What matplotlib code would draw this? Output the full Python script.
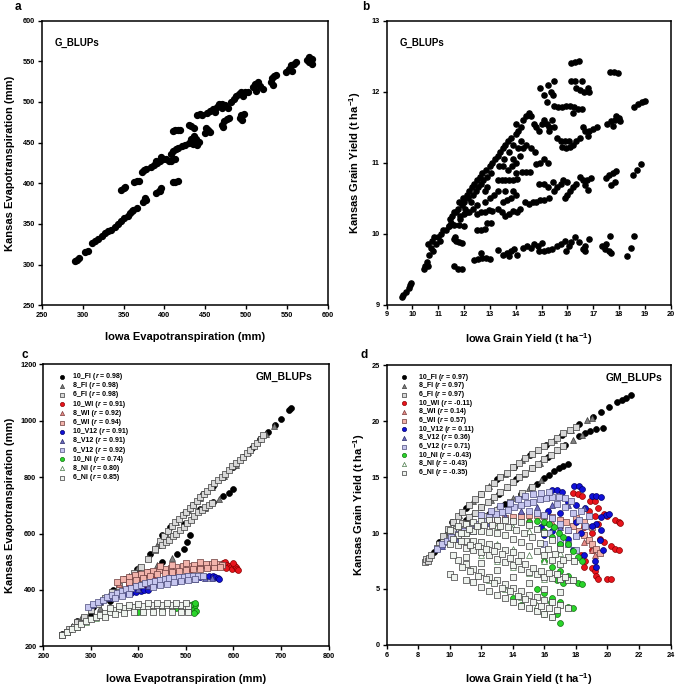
import numpy as np
import matplotlib
matplotlib.use("Agg")
import matplotlib.pyplot as plt

plt.rcParams['font.family'] = ['Liberation Sans', 'DejaVu Sans']
plt.rcParams['font.weight'] = 'bold'
plt.rcParams['mathtext.fontset'] = 'custom'
plt.rcParams['mathtext.rm'] = 'Liberation Sans:bold'
plt.rcParams['mathtext.it'] = 'Liberation Sans:italic:bold'
plt.rcParams['mathtext.bf'] = 'Liberation Sans:bold'

# ---------------- panel a : G_BLUPs evapotranspiration ----------------
a_pts = [(290, 304), (293, 306), (296, 308), (303, 315), (306, 317),
         (311, 326), (315, 329), (319, 332), (323, 335), (327, 339), (331, 341),
         (335, 343), (339, 346), (343, 350), (347, 354), (351, 357), (355, 360),
         (358, 364), (362, 367), (366, 369), (360, 366),
         (374, 377), (378, 380), (376, 382),
         (390, 388), (393, 391), (396, 394), (394, 390),
         (410, 401), (413, 402), (416, 403),
         (347, 392), (350, 394), (352, 395),
         (363, 402), (366, 403), (369, 403),
         (372, 414), (375, 416), (378, 417),
         (383, 420), (387, 422), (391, 425), (394, 428), (398, 430), (402, 430),
         (405, 428), (408, 427), (390, 427), (396, 432),
         (408, 436), (411, 440), (414, 442), (417, 444), (421, 446), (425, 447), (413, 430),
         (410, 464), (413, 465), (416, 465), (419, 465),
         (430, 472), (433, 470), (436, 468),
         (430, 450), (433, 455), (436, 458), (439, 455), (442, 451), (435, 448), (440, 447),
         (440, 484), (443, 485), (446, 484),
         (450, 462), (453, 466), (456, 463), (451, 468),
         (452, 487), (456, 489), (460, 491), (464, 494), (467, 497), (470, 498),
         (474, 496), (478, 493), (462, 488), (470, 492),
         (470, 472), (473, 476), (476, 479), (479, 480), (472, 469),
         (482, 500), (485, 504), (488, 507), (491, 510), (494, 512), (498, 512),
         (502, 512), (496, 507),
         (492, 480), (494, 484), (497, 485), (495, 478),
         (508, 518), (511, 522), (514, 524), (517, 520), (520, 516), (512, 514),
         (530, 525), (532, 529), (534, 532), (536, 533), (533, 521),
         (549, 537), (552, 541), (555, 545), (558, 547), (561, 549), (556, 538),
         (574, 552), (577, 555), (580, 553), (580, 547), (577, 549)]

# ---------------- panel b : G_BLUPs grain yield ----------------
b_pts = [(9.6, 9.1), (9.65, 9.13), (9.75, 9.18), (9.85, 9.23), (9.9, 9.27), (9.95, 9.3),
         # lowest branch
         (11.6, 9.55), (11.75, 9.5), (11.9, 9.5),
         (11.6, 9.92), (11.7, 9.9), (11.8, 9.88), (11.9, 9.87), (11.65, 9.95),
         (12.4, 9.63), (12.55, 9.64), (12.7, 9.65), (12.85, 9.66), (13.0, 9.64), (12.65, 9.72),
         (13.3, 9.77), (13.5, 9.7), (13.65, 9.72), (13.8, 9.75), (13.95, 9.78), (14.05, 9.7),
         (13.75, 9.68), (14.3, 9.8), (14.45, 9.82), (14.6, 9.8), (14.7, 9.85), (14.85, 9.83),
         (15.0, 9.87), (14.9, 9.75), (15.1, 9.76), (15.25, 9.77), (15.4, 9.78), (15.6, 9.82),
         (15.75, 9.85), (15.9, 9.9), (15.95, 9.75), (16.05, 9.82), (16.15, 9.88), (16.3, 9.95),
         (16.45, 9.88), (16.6, 9.78), (16.7, 9.82), (16.85, 9.93), (16.7, 9.75), (17.35, 9.82),
         (17.45, 9.78), (17.5, 9.85), (17.6, 9.75), (17.7, 9.72), (17.65, 9.97), (18.3, 9.68),
         (18.45, 9.8), (18.6, 9.96),
         # main diagonal
         (10.45, 9.5), (10.5, 9.55), (10.55, 9.6), (10.6, 9.55), (10.65, 9.7), (10.7, 9.8),
         (10.6, 9.85), (10.75, 9.9), (10.8, 9.75), (10.9, 9.85), (11.0, 9.95), (11.05, 9.9),
         (10.85, 9.95), (11.1, 10.0), (11.2, 10.05), (11.3, 10.05), (11.4, 10.1), (11.45, 10.2),
         (11.5, 10.15), (11.55, 10.25), (11.6, 10.3), (11.7, 10.3), (11.75, 10.35), (11.8, 10.45),
         (11.85, 10.2), (11.9, 10.4), (11.95, 10.5), (12.0, 10.45), (12.05, 10.35), (12.1, 10.55),
         (12.15, 10.5), (12.2, 10.6), (12.25, 10.45), (12.3, 10.65), (12.35, 10.55), (12.4, 10.7),
         (12.45, 10.6), (12.5, 10.75), (12.55, 10.65), (12.6, 10.8), (12.65, 10.7), (12.7, 10.85),
         (12.75, 10.75), (12.8, 10.6), (12.85, 10.9), (12.9, 10.8), (13.0, 10.95), (13.05, 10.85),
         (13.1, 11.0), (13.2, 11.05), (13.3, 11.1), (13.35, 10.95), (13.4, 11.15), (13.5, 11.2),
         (13.55, 11.05), (13.6, 11.25), (13.7, 11.3), (13.75, 11.15), (13.8, 11.35), (13.9, 11.25),
         (14.0, 11.4), (14.0, 11.55), (14.1, 11.45), (14.2, 11.5), (14.3, 11.6), (14.4, 11.65),
         (14.5, 11.7), (14.6, 11.65), (14.7, 11.55), (14.8, 11.5), (14.9, 11.45), (15.0, 11.55),
         (15.1, 11.6), (15.2, 11.55), (15.3, 11.5), (15.4, 11.6), (15.5, 11.5), (15.3, 11.45),
         # upper branches
         (14.95, 12.05), (15.1, 11.95), (15.25, 12.1), (15.35, 12.0), (15.5, 12.15), (15.45, 11.95),
         (15.2, 11.85), (15.5, 11.8), (15.65, 11.78), (15.8, 11.78), (15.95, 11.8), (16.1, 11.8),
         (16.25, 11.78), (16.4, 11.75), (16.55, 11.75), (16.2, 11.7),
         (16.15, 12.4), (16.3, 12.42), (16.45, 12.43), (16.15, 12.15), (16.3, 12.15), (16.55, 12.15),
         (16.35, 12.05), (16.5, 12.02), (16.65, 12.0), (16.8, 12.05), (16.85, 12.0),
         (17.65, 12.27), (17.8, 12.27), (17.95, 12.26),
         (18.6, 11.78), (18.75, 11.82), (18.9, 11.85), (19.0, 11.87),
         (17.55, 11.55), (17.7, 11.58), (17.85, 11.6), (18.0, 11.63), (17.75, 11.52), (17.9, 11.65),
         (18.05, 11.58),
         (15.6, 11.35), (15.75, 11.3), (15.9, 11.3), (16.05, 11.3), (16.2, 11.25), (16.35, 11.3),
         (16.5, 11.35), (16.6, 11.5), (16.7, 11.45), (16.85, 11.45), (17.0, 11.47), (17.15, 11.5),
         (16.8, 11.38), (15.8, 11.22), (15.95, 11.2), (16.1, 11.22),
         # middle branch
         (13.3, 10.75), (13.45, 10.75), (13.6, 10.75), (13.75, 10.76), (13.9, 10.75), (14.05, 10.77),
         (14.25, 10.87), (14.4, 10.87), (14.55, 10.87), (14.8, 10.98), (14.95, 11.0), (15.1, 11.05),
         (15.25, 11.0), (15.5, 10.6), (15.6, 10.65), (15.75, 10.7), (15.9, 10.5), (16.0, 10.55),
         (16.1, 10.6), (16.2, 10.65), (16.35, 10.7), (16.5, 10.8), (16.6, 10.75), (16.75, 10.75),
         (16.9, 10.78), (16.7, 10.68), (16.8, 10.62), (15.85, 10.75), (16.0, 10.73), (17.5, 10.78),
         (17.6, 10.82), (17.75, 10.85), (17.9, 10.88), (17.7, 10.68), (17.85, 10.72), (18.55, 10.83),
         (18.7, 10.9), (18.85, 10.98), (15.45, 10.72), (15.25, 10.65), (15.1, 10.7), (14.9, 10.7),
         # lower-middle branch
         (12.5, 10.28), (12.65, 10.3), (12.8, 10.3), (12.95, 10.33), (13.1, 10.32), (13.3, 10.35),
         (13.45, 10.3), (13.6, 10.25), (13.75, 10.28), (13.9, 10.32), (14.05, 10.3), (14.15, 10.35),
         (14.5, 10.42), (14.65, 10.45), (14.8, 10.45), (14.95, 10.48), (15.1, 10.48), (15.3, 10.5),
         (14.35, 10.45), (11.85, 10.25), (12.0, 10.27), (12.1, 10.3),
         (12.0, 10.1), (11.8, 10.12), (11.6, 10.12), (11.4, 10.1),
         (12.5, 10.05), (12.65, 10.05), (12.8, 10.06), (12.9, 10.15), (13.05, 10.15),
         (13.5, 10.45), (13.65, 10.47), (13.8, 10.5), (14.0, 10.55),
         (13.5, 10.95), (13.7, 10.9), (13.85, 10.95), (14.0, 11.0), (14.15, 11.1), (14.3, 11.2),
         (14.4, 11.25), (14.6, 11.2), (14.75, 11.15), (14.0, 10.85), (13.3, 10.6), (13.6, 10.6),
         (13.9, 10.6), (12.8, 10.45), (13.0, 10.5), (12.9, 10.65), (13.15, 10.55), (14.1, 11.2),
         (14.2, 11.3), (13.9, 11.05), (12.2, 10.3), (12.35, 10.35), (12.5, 10.4)]

# ---------------- panel c : GM_BLUPs evapotranspiration ----------------
c_names = ['10_FI', '8_FI', '6_FI', '10_WI', '8_WI', '6_WI',
           '10_V12', '8_V12', '6_V12', '10_NI', '8_NI', '6_NI']
c_r = ['0.98', '0.98', '0.98', '0.91', '0.92', '0.94',
       '0.91', '0.91', '0.92', '0.74', '0.80', '0.85']

c_fi10 = [(449, 594), (467, 623), (495, 670), (515, 700), (537, 741), (558, 770), (579, 800),
          (600, 835), (621, 871), (640, 905), (656, 937), (672, 960), (688, 984), (700, 1005),
          (716, 1037), (722, 1045),
          (240, 245), (270, 290), (305, 340), (347, 400), (398, 475), (425, 529), (460, 576),
          (495, 635), (530, 688), (558, 712), (579, 735), (590, 745), (600, 759),
          (300, 310), (340, 360), (380, 410), (420, 465), (450, 500), (481, 529), (495, 546),
          (503, 570), (509, 595)]
c_fi8 = [(260, 272), (300, 330), (340, 390), (380, 450), (420, 515), (442, 560), (460, 590),
         (480, 640), (505, 683), (530, 725), (555, 765), (580, 805), (605, 845), (630, 888),
         (650, 925), (668, 952), (685, 980),
         (280, 300), (320, 358), (360, 418), (400, 480), (440, 560), (475, 600), (510, 650),
         (540, 690), (570, 722),
         (320, 335), (360, 385), (400, 438), (440, 488), (470, 515)]
c_fi6 = [(240, 240), (255, 262), (270, 285), (285, 305), (300, 328), (315, 350), (330, 372),
         (345, 392), (360, 415), (375, 438), (390, 460), (405, 483), (420, 510), (435, 540),
         (445, 575), (453, 590), (462, 610), (470, 628), (478, 640), (485, 652), (493, 665),
         (500, 678), (508, 690), (515, 702), (523, 715), (530, 728), (538, 740), (545, 752),
         (553, 765), (560, 778), (568, 790), (575, 800), (583, 812), (590, 825), (598, 838),
         (605, 850), (613, 861), (620, 872), (628, 885), (635, 898), (643, 910), (650, 922),
         (657, 935), (663, 948),
         (435, 545), (450, 560), (458, 570), (465, 578), (473, 590), (480, 600), (488, 612),
         (495, 625), (503, 637), (510, 648), (518, 662), (525, 675), (533, 685), (540, 695),
         (548, 702), (555, 708),
         (250, 252), (265, 268), (280, 282)]
c_wi10 = [(414, 405), (418, 408), (422, 410), (380, 420), (430, 440), (470, 460), (510, 475),
          (550, 485), (578, 495), (582, 500), (586, 490), (590, 485), (594, 480), (598, 475),
          (602, 490), (605, 482), (608, 476), (610, 470), (600, 495), (585, 478)]
c_wi8 = [(360, 420), (380, 432), (400, 445), (420, 455), (440, 462), (460, 470), (480, 476),
         (500, 480), (520, 485), (540, 488), (560, 490), (575, 492)]
c_wi6 = [(355, 427), (368, 437), (380, 446), (393, 453), (405, 458), (418, 463), (430, 468),
         (443, 472), (455, 475), (468, 479), (480, 482), (493, 484), (505, 486), (518, 488),
         (530, 490), (543, 491), (555, 492), (568, 492), (575, 488),
         (380, 428), (395, 436), (410, 443), (425, 450), (440, 456), (455, 461), (470, 465),
         (485, 468), (500, 471), (515, 473), (530, 476), (545, 478), (560, 480), (572, 481),
         (445, 485), (470, 490), (500, 497), (530, 500), (560, 498)]
c_v10 = [(375, 388), (385, 390), (395, 393), (405, 395), (412, 398), (420, 400), (530, 445),
         (540, 447), (548, 449), (556, 450), (562, 447), (568, 443), (570, 440)]
c_v8 = [(300, 345), (320, 360), (340, 372), (360, 385), (380, 395), (400, 405), (420, 413),
        (440, 420), (460, 428), (480, 433), (500, 438), (520, 440), (540, 442), (555, 444)]
c_v6 = [(295, 340), (305, 350), (315, 358), (325, 366), (335, 374), (345, 381), (355, 388),
        (365, 395), (375, 402), (385, 408), (395, 414), (405, 419), (415, 424), (425, 428),
        (435, 432), (445, 435), (455, 438), (465, 441), (475, 443), (485, 445), (495, 447),
        (505, 448), (515, 449), (525, 450), (535, 450),
        (350, 370), (365, 378), (380, 385), (430, 410), (445, 416), (460, 422), (475, 427),
        (490, 431), (505, 435), (520, 438)]
c_ni10 = [(400, 320), (450, 330), (480, 335), (510, 325), (512, 340), (515, 350), (518, 332),
          (520, 345), (522, 325), (516, 318), (508, 348), (520, 355)]
c_ni8 = [(250, 250), (270, 268), (290, 285), (310, 300), (330, 312), (350, 320), (370, 325),
         (390, 328), (410, 330), (430, 333), (450, 335), (470, 336), (490, 336), (505, 335)]
c_ni6 = [(240, 240), (250, 250), (260, 260), (270, 270), (280, 280), (290, 290), (300, 298),
         (310, 305), (320, 312), (330, 318), (340, 323), (350, 328), (360, 332), (370, 335),
         (380, 338), (390, 340), (400, 342), (410, 343), (420, 344), (430, 345), (440, 346),
         (450, 346), (460, 346), (470, 346), (480, 345), (490, 345), (500, 344), (505, 343),
         (340, 335), (360, 342), (380, 347), (400, 350), (420, 352), (440, 353), (460, 354),
         (480, 354), (500, 353),
         (330, 305), (350, 313), (370, 318), (390, 322), (410, 322), (430, 323), (450, 322),
         (470, 322), (490, 322), (505, 321)]

# ---------------- panel d : GM_BLUPs grain yield ----------------
d_r = ['0.97', '0.97', '0.97', '-0.11', '0.14', '0.57',
       '0.11', '0.36', '0.71', '-0.43', '-0.43', '-0.35']

d_fi10 = [(9.3, 9.2), (10.16, 11.0), (11.0, 12.2), (11.96, 13.5), (13.0, 14.8), (14.07, 15.9),
          (15.1, 17.0), (16.1, 17.9), (17.1, 18.8), (18.2, 19.7), (19.1, 20.4), (19.56, 20.8),
          (20.1, 21.3), (20.6, 21.7), (20.9, 21.9), (21.2, 22.1), (21.5, 22.3),
          (9.0, 8.3), (10.0, 9.9), (11.0, 11.2), (12.0, 12.3), (13.1, 13.5), (14.2, 14.8),
          (15.2, 15.8), (16.2, 16.8), (17.3, 17.9), (18.2, 18.7), (18.6, 18.9), (18.9, 19.1),
          (19.3, 19.3), (19.7, 19.4),
          (10.5, 10.0), (11.5, 10.9), (12.5, 11.7), (13.5, 12.6), (14.5, 13.5), (15.5, 14.4),
          (16.0, 14.9), (16.3, 15.2), (16.6, 15.5), (16.9, 15.8), (17.2, 16.0), (17.5, 16.2)]
d_fi8 = [(9.8, 10.2), (10.6, 11.6), (11.5, 12.9), (12.5, 14.2), (13.5, 15.3), (14.6, 16.5),
         (15.55, 17.4), (16.6, 18.3), (17.66, 19.2), (18.7, 20.1), (19.0, 20.3),
         (9.5, 9.0), (10.48, 10.57), (11.5, 11.8), (12.6, 12.95), (13.6, 14.1), (14.7, 15.3),
         (15.7, 16.3), (16.8, 17.4), (17.8, 18.3), (18.4, 18.8),
         (11.0, 10.4), (12.0, 11.3), (13.0, 12.2), (14.0, 13.1), (15.0, 14.0), (15.8, 14.7)]
d_fi6 = [(9.3, 9.0), (9.6, 9.7), (9.9, 10.4), (10.2, 11.0), (10.5, 11.5), (10.8, 11.9),
         (11.2, 12.5), (11.6, 13.0), (12.0, 13.5), (12.4, 14.0), (12.8, 14.5), (13.2, 15.0),
         (13.6, 15.4), (14.0, 15.9), (14.4, 16.3), (14.8, 16.7), (15.2, 17.1), (15.6, 17.4),
         (16.0, 17.8), (16.4, 18.1), (16.8, 18.5), (17.2, 18.9), (17.6, 19.2), (18.0, 19.5),
         (8.4, 7.4), (8.5, 7.7), (8.6, 7.5), (8.7, 7.8), (8.8, 8.0), (9.2, 8.7), (9.6, 9.2),
         (10.0, 9.8), (10.4, 10.4), (10.8, 10.9), (11.2, 11.4), (11.6, 11.8), (12.0, 12.3),
         (12.4, 12.8), (12.8, 13.2), (13.2, 13.7), (13.6, 14.1), (14.0, 14.6), (14.4, 15.0),
         (14.8, 15.4), (15.2, 15.8), (15.6, 16.2), (16.0, 16.6), (16.4, 17.0), (16.8, 17.4),
         (17.2, 17.8),
         (10.2, 10.2), (10.6, 10.3), (11.4, 10.9), (12.2, 11.5), (13.0, 12.1), (13.8, 12.8),
         (14.6, 13.6), (15.2, 14.1)]
d_wi10 = [(17.8, 13.6), (18.1, 13.5), (18.4, 13.3), (18.9, 12.9), (19.2, 12.9), (19.4, 12.2),
          (19.8, 11.7), (20.0, 11.5), (20.5, 11.2), (20.7, 11.0), (20.8, 10.9), (18.8, 12.0),
          (19.2, 11.5), (19.4, 10.8), (18.5, 10.5), (19.0, 10.0), (19.5, 9.5), (19.8, 9.2),
          (20.2, 8.8), (20.5, 8.6), (20.7, 8.5), (18.6, 7.5), (18.5, 7.0), (19.0, 6.9),
          (19.2, 6.6), (19.3, 6.2), (19.4, 5.9), (20.0, 5.9), (20.2, 5.9), (18.3, 8.0), (19.0, 8.5)]
d_wi8 = [(14.0, 11.2), (15.0, 11.3), (16.0, 11.1), (16.5, 11.0), (17.0, 10.7), (17.5, 10.3),
         (18.0, 9.8), (18.5, 9.2), (19.0, 8.5), (19.2, 8.0)]
d_wi6 = [(12.5, 11.0), (13.0, 11.2), (13.5, 11.3), (14.0, 11.4), (14.5, 11.5), (15.0, 11.6),
         (15.5, 11.6), (16.0, 11.5), (16.5, 11.4), (17.0, 11.2), (17.4, 11.0), (17.8, 10.6),
         (18.2, 10.2), (18.5, 9.8), (18.8, 9.4), (19.0, 9.0), (19.3, 8.6), (19.5, 8.2),
         (18.0, 11.3), (18.5, 11.0), (19.0, 10.5)]
d_v10 = [(16.5, 13.8), (16.8, 13.8), (17.1, 13.7), (17.9, 14.2), (18.2, 14.2), (18.4, 13.9),
         (19.0, 13.3), (19.3, 13.3), (19.6, 13.2), (19.9, 11.6), (20.1, 11.7), (19.6, 11.4),
         (19.3, 10.8), (19.6, 10.3), (19.0, 10.6), (19.5, 9.4), (19.7, 8.5), (19.2, 7.5),
         (19.3, 7.0), (18.0, 12.5), (18.6, 12.2), (17.5, 12.8), (16.2, 12.0), (17.0, 11.8),
         (18.0, 11.0), (18.3, 10.0), (17.5, 9.5), (17.0, 9.0), (16.0, 9.8), (16.5, 10.2),
         (15.8, 10.5), (17.8, 8.5), (18.5, 8.0)]
d_v8 = [(9.5, 8.8), (10.5, 9.5), (11.5, 10.2), (12.5, 10.9), (13.5, 11.5), (14.5, 12.0),
        (15.5, 12.3), (16.5, 12.5), (17.5, 12.5), (18.5, 12.2), (16.0, 11.0), (17.0, 10.5)]
d_v6 = [(9.2, 8.6), (9.5, 9.0), (9.8, 9.3), (10.1, 9.6), (10.5, 9.9), (10.9, 10.2), (11.3, 10.5),
        (11.7, 10.8), (12.1, 11.1), (12.5, 11.4), (12.9, 11.7), (13.3, 11.9), (13.7, 12.1),
        (14.1, 12.3), (14.5, 12.5), (14.9, 12.7), (15.3, 12.8), (15.7, 13.0), (16.1, 13.1),
        (16.5, 13.2), (16.9, 13.2), (17.3, 13.1), (17.7, 12.9), (14.3, 13.0), (14.8, 13.3),
        (15.3, 13.5), (15.8, 13.6), (16.3, 13.7), (15.0, 12.0), (15.5, 11.8), (16.0, 11.6),
        (16.5, 11.3), (17.0, 10.8), (17.5, 10.3), (18.0, 9.7), (16.3, 10.0), (17.0, 9.5),
        (17.5, 9.0), (18.0, 8.5), (18.3, 12.0), (18.8, 11.5), (16.0, 9.0),
        (12.0, 11.6), (12.6, 12.0), (13.2, 12.4), (13.8, 12.7), (16.8, 12.6), (17.3, 12.3),
        (17.8, 11.8), (18.2, 11.2), (18.6, 10.6)]
d_ni10 = [(15.0, 11.0), (15.5, 11.1), (16.0, 11.0), (16.3, 10.8), (16.6, 10.5), (16.9, 10.0),
          (17.2, 9.6), (17.5, 9.0), (17.8, 8.4), (18.1, 7.9), (18.4, 7.5), (16.0, 10.2),
          (16.5, 9.6), (17.0, 9.0),
          (16.0, 7.5), (16.5, 7.0), (17.0, 6.6), (17.5, 6.2), (17.8, 5.8), (18.1, 5.5), (18.4, 5.4),
          (16.8, 5.8), (17.2, 5.5),
          (15.5, 5.0), (16.0, 4.6), (16.5, 4.2), (17.0, 3.8), (17.5, 3.4), (17.8, 3.3), (16.4, 3.8),
          (15.5, 3.2), (16.0, 2.8), (16.5, 2.5), (16.8, 2.8), (17.0, 2.0), (14.5, 3.6), (14.0, 4.2)]
d_ni8 = [(11.0, 10.0), (12.0, 10.3), (13.0, 10.6), (14.0, 10.5), (15.0, 10.2), (12.0, 8.0),
         (13.0, 7.5), (14.0, 7.0), (15.0, 6.4), (16.0, 5.9), (12.5, 5.8), (13.5, 5.0),
         (14.5, 4.3), (15.5, 3.6), (13.0, 9.0), (14.0, 8.6), (15.0, 8.0), (16.0, 7.5), (17.0, 8.2)]
d_ni6 = [(10.0, 10.3), (10.5, 10.6), (11.0, 10.8), (11.5, 11.0), (12.0, 11.1), (12.5, 11.2),
         (13.0, 11.2), (13.5, 11.2), (14.0, 11.1), (14.5, 11.0), (15.0, 10.7), (15.5, 10.4),
         (16.0, 10.0), (16.5, 9.4), (17.0, 8.6), (17.5, 7.9), (17.9, 7.5),
         (11.0, 10.0), (11.5, 10.2), (12.0, 10.2), (12.5, 10.1), (13.0, 10.0), (13.5, 9.8),
         (14.0, 9.5), (14.5, 9.2), (15.0, 8.8), (15.5, 8.4), (16.0, 8.0), (16.5, 7.6), (17.0, 7.2),
         (10.0, 9.0), (10.5, 8.9), (11.0, 8.7), (11.5, 8.5), (12.0, 8.3), (12.5, 8.0), (13.0, 7.7),
         (13.5, 7.4), (14.0, 7.1), (14.5, 6.8), (15.0, 6.5), (15.5, 6.3), (16.0, 6.1), (16.5, 6.0),
         (17.0, 5.9), (17.5, 5.8), (17.8, 5.8),
         (10.5, 7.6), (11.0, 7.2), (11.5, 6.8), (12.0, 6.5), (12.5, 6.1), (13.0, 5.8), (13.5, 5.4),
         (14.0, 5.1), (14.5, 4.8), (15.0, 4.5), (15.5, 4.3), (16.0, 4.0), (16.5, 3.8), (17.0, 3.6),
         (17.5, 3.3),
         (10.0, 6.3), (10.3, 6.1), (11.0, 5.8), (11.5, 5.6), (12.0, 5.2), (12.5, 4.8), (13.0, 4.5),
         (13.5, 4.2), (14.0, 3.8), (14.5, 3.5), (15.0, 3.3), (15.5, 3.0), (16.0, 2.8), (16.5, 2.5),
         (10.5, 9.8), (11.0, 9.3), (11.5, 9.3), (12.0, 9.2), (12.5, 9.0), (13.0, 8.8), (13.5, 8.5),
         (14.0, 8.3), (14.5, 8.0), (10.2, 8.0), (11.0, 7.9), (12.0, 7.3), (13.0, 6.7), (14.0, 6.1),
         (15.0, 5.5), (16.0, 5.0), (17.0, 4.7),
         (10.2, 9.5), (10.7, 9.3), (11.3, 8.9), (11.8, 8.8), (12.3, 8.6), (12.8, 8.4), (13.3, 8.1),
         (13.8, 7.8), (14.3, 7.5), (14.8, 7.2), (15.3, 6.9), (15.8, 6.6), (16.3, 6.4), (16.8, 6.3),
         (17.3, 6.1),
         (10.8, 7.0), (11.3, 6.6), (11.8, 6.2), (12.3, 5.9), (12.8, 5.5), (13.3, 5.1), (13.8, 4.8),
         (14.3, 4.4), (14.8, 4.1), (15.3, 3.8), (15.8, 3.5), (16.3, 3.3), (16.8, 3.1),
         (10.7, 10.0), (11.2, 10.4), (11.7, 10.6), (12.2, 10.7), (12.7, 10.7), (13.2, 10.6),
         (13.7, 10.5), (14.2, 10.3), (14.7, 10.0), (15.2, 9.6), (15.7, 9.1), (16.2, 8.6),
         (16.7, 8.1), (17.2, 7.6)]

# marker style for each of the 12 treatments (order of the legend)
styles = [dict(marker='o', fc='black', ec='black'),
          dict(marker='^', fc='#7f7f7f', ec='#3a3a3a'),
          dict(marker='s', fc='#d8d8d8', ec='#3a3a3a'),
          dict(marker='o', fc='#e8141c', ec='#8a0000'),
          dict(marker='^', fc='#e88c86', ec='#7a3a3a'),
          dict(marker='s', fc='#f2b3ab', ec='#6a3a3a'),
          dict(marker='o', fc='#1010d8', ec='#00006a'),
          dict(marker='^', fc='#6c6cc0', ec='#2a2a6a'),
          dict(marker='s', fc='#c6c6ef', ec='#4a4a7a'),
          dict(marker='o', fc='#2ad42a', ec='#107010'),
          dict(marker='^', fc='white', ec='#4a7a4a'),
          dict(marker='s', fc='#eef3ee', ec='#3a3a3a')]

fig = plt.figure(figsize=(6.76, 6.89), dpi=100)
ax_a = fig.add_axes([0.062, 0.557, 0.423, 0.413])
ax_b = fig.add_axes([0.572, 0.558, 0.420, 0.412])
ax_c = fig.add_axes([0.064, 0.062, 0.422, 0.409])
ax_d = fig.add_axes([0.572, 0.064, 0.420, 0.406])


def style_axes(ax, xlim, ylim, xticks, yticks, xlabel, ylabel, ylab_x, xlab_y):
    ax.set_xlim(*xlim)
    ax.set_ylim(*ylim)
    ax.set_xticks(xticks)
    ax.set_yticks(yticks)
    ax.tick_params(direction='out', length=3, width=1, labelsize=5.3, pad=2)
    for s in ax.spines.values():
        s.set_linewidth(1.1)
    ax.set_xlabel(xlabel, fontsize=8, fontweight='bold')
    ax.set_ylabel(ylabel, fontsize=8, fontweight='bold')
    ax.xaxis.set_label_coords(0.5, xlab_y)
    ax.yaxis.set_label_coords(ylab_x, 0.5)


def scatter_pts(ax, pts, st, size):
    xs, ys = np.array(pts).T
    ax.scatter(xs, ys, s=size, marker=st['marker'], facecolor=st['fc'],
               edgecolor=st['ec'], linewidths=0.5)


def draw_legend(ax, names, rvals, mx, tx, y0, dy):
    # hand-made legend so that the "r" can be italic inside bold text
    for i, (name, rv, st) in enumerate(zip(names, rvals, styles)):
        y = y0 - i * dy
        ax.scatter([mx], [y], s=9, marker=st['marker'], facecolor=st['fc'],
                   edgecolor=st['ec'], linewidths=0.5, transform=ax.transAxes, clip_on=False)
        t1 = ax.text(tx, y, name + ' (', transform=ax.transAxes, fontsize=5,
                     fontweight='bold', va='center')
        t2 = ax.annotate('r', xy=(1, 0), xycoords=t1, va='bottom', ha='left',
                         fontsize=5, fontweight='bold', fontstyle='italic')
        ax.annotate(' = ' + rv + ')', xy=(1, 0), xycoords=t2, va='bottom', ha='left',
                    fontsize=5, fontweight='bold')


xa, ya = np.array(a_pts).T
ax_a.scatter(xa, ya, s=18, color='black')
style_axes(ax_a, (250, 600), (250, 600), range(250, 601, 50), range(250, 601, 50),
           'Iowa Evapotranspiration (mm)', 'Kansas Evapotranspiration (mm)', -0.095, -0.095)
ax_a.text(0.045, 0.92, 'G_BLUPs', transform=ax_a.transAxes, fontsize=7, fontweight='bold',
          va='center')

xb, yb = np.array(b_pts).T
ax_b.scatter(xb, yb, s=14, color='black')
style_axes(ax_b, (9, 20), (9, 13), range(9, 21), range(9, 14),
           r'Iowa Grain Yield (t ha$^{-1}$)', r'Kansas Grain Yield (t ha$^{-1}$)', -0.085, -0.095)
ax_b.text(0.045, 0.92, 'G_BLUPs', transform=ax_b.transAxes, fontsize=7, fontweight='bold',
          va='center')

c_series = [c_fi10, c_fi8, c_fi6, c_wi10, c_wi8, c_wi6, c_v10, c_v8, c_v6, c_ni10, c_ni8, c_ni6]
d_series = [d_fi10, d_fi8, d_fi6, d_wi10, d_wi8, d_wi6, d_v10, d_v8, d_v6, d_ni10, d_ni8, d_ni6]

for pts, st in zip(c_series, styles):
    scatter_pts(ax_c, pts, st, 18)
for pts, st in zip(d_series, styles):
    scatter_pts(ax_d, pts, st, 18)

draw_legend(ax_c, c_names, c_r, 0.067, 0.105, 0.957, 0.0326)
draw_legend(ax_d, c_names, d_r, 0.06, 0.113, 0.957, 0.031)
ax_c.text(0.945, 0.955, 'GM_BLUPs', transform=ax_c.transAxes, fontsize=7.5,
          fontweight='bold', ha='right', va='center')
ax_d.text(0.97, 0.955, 'GM_BLUPs', transform=ax_d.transAxes, fontsize=7.5,
          fontweight='bold', ha='right', va='center')

style_axes(ax_c, (200, 800), (200, 1200), range(200, 801, 100), range(200, 1201, 200),
           'Iowa Evapotranspiration (mm)', 'Kansas Evapotranspiration (mm)', -0.1, -0.1)
style_axes(ax_d, (6, 24), (0, 25), range(6, 25, 2), range(0, 26, 5),
           r'Iowa Grain Yield (t ha$^{-1}$)', r'Kansas Grain Yield (t ha$^{-1}$)', -0.07, -0.095)

fig.text(15 / 676, 1 - 7 / 689, 'a', fontsize=8.5, fontweight='bold', va='center')
fig.text(362 / 676, 1 - 7 / 689, 'b', fontsize=8.5, fontweight='bold', va='center')
fig.text(22 / 676, 1 - 355 / 689, 'c', fontsize=8.5, fontweight='bold', va='center')
fig.text(360 / 676, 1 - 355 / 689, 'd', fontsize=8.5, fontweight='bold', va='center')

fig.savefig('out.png', dpi=100)
